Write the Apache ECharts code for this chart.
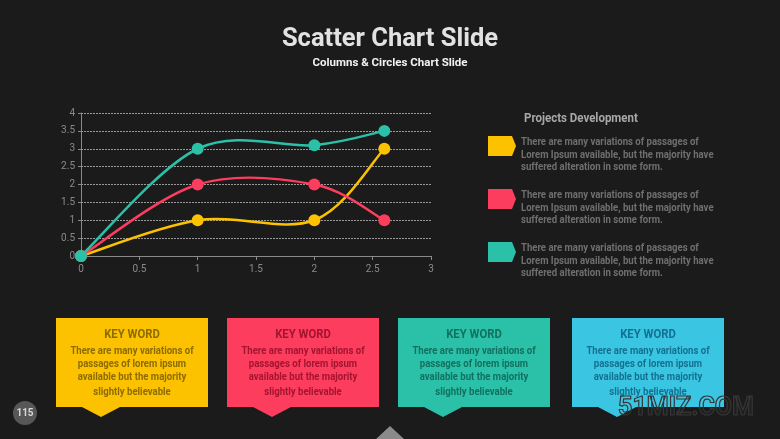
<!DOCTYPE html>
<html>
<head>
<meta charset="utf-8">
<script src="https://cdn.jsdelivr.net/npm/echarts@6/dist/echarts.min.js"></script>
<style>
  html, body { margin: 0; padding: 0; background: #1b1b1b; }
  #chart { width: 780px; height: 439px; }
</style>
</head>
<body>
<div id="chart"></div>
<script>
const xPoints = [0, 1, 2, 2.6];
const yellowValues = [0, 1, 1, 3];
const redValues = [0, 2, 2, 1];
const tealValues = [0, 3, 3.1, 3.5];

const seriesNames = ['Yellow', 'Red', 'Teal'];
const seriesColors = ['#fcc200', '#fc3d5e', '#2bc1a8'];
const boxColors = ['#fcc200', '#fc3d5e', '#2bc1a8', '#3ac6e3'];
const boxTextColors = ['#8c6b00', '#a3142f', '#11705f', '#13718f'];

const legendTitle = 'Projects Development';
const legendLines = [
  'There are many variations of passages of',
  'Lorem Ipsum available, but the majority have',
  'suffered alteration in some form.'
];
const boxKeyword = 'KEY WORD';
const boxLines = [
  'There are many variations of',
  'passages of lorem ipsum',
  'available but the majority',
  'slightly believable'
];

const font = 'Roboto, sans-serif';
const squeeze = 0.87;

function toPairs(values) {
  return xPoints.map((x, i) => [x, values[i]]);
}

// smooth curve (catmull-rom style, overshoots like the office charts do)
function curveItem(values, color) {
  return function (params, api) {
    const i = params.dataIndex;
    const n = values.length;
    if (i >= n - 1) return null;
    const pt = (k) => api.coord([xPoints[Math.max(0, Math.min(n - 1, k))], values[Math.max(0, Math.min(n - 1, k))]]);
    const p0 = pt(i - 1), p1 = pt(i), p2 = pt(i + 1), p3 = pt(i + 2);
    return {
      type: 'bezierCurve',
      shape: {
        x1: p1[0], y1: p1[1], x2: p2[0], y2: p2[1],
        cpx1: p1[0] + (p2[0] - p0[0]) / 6, cpy1: p1[1] + (p2[1] - p0[1]) / 6,
        cpx2: p2[0] - (p3[0] - p1[0]) / 6, cpy2: p2[1] - (p3[1] - p1[1]) / 6
      },
      style: { stroke: color, lineWidth: 2.5, fill: null }
    };
  };
}

const chart = echarts.init(document.getElementById('chart'));

const graphics = [];

// legend block on the right
graphics.push({
  type: 'text', x: 524, y: 112, scaleX: 0.92,
  style: { text: legendTitle, fill: '#a8a8a8', font: 'bold 12.5px ' + font }
});
seriesColors.forEach((color, i) => {
  const top = 136 + i * 53;
  graphics.push({
    type: 'polygon',
    shape: { points: [[488, top], [512, top], [516, top + 10], [512, top + 20], [488, top + 20]] },
    style: { fill: color }
  });
  graphics.push({
    type: 'text', x: 521, y: top, scaleX: squeeze,
    style: {
      text: legendLines.join('\n'), fill: '#6f6f6f', lineHeight: 12.6,
      font: 'bold 11px ' + font
    }
  });
});

// four keyword boxes
const boxLefts = [56, 227, 398, 572];
const boxWidth = 152;
boxColors.forEach((color, i) => {
  const l = boxLefts[i];
  const p = l + 26;
  const cx = l + boxWidth / 2;
  graphics.push({
    type: 'polygon',
    shape: {
      points: [[l, 318], [l + boxWidth, 318], [l + boxWidth, 407], [p + 38, 407],
        [p + 19, 417], [p, 407], [l, 407]]
    },
    style: { fill: color }
  });
  graphics.push({
    type: 'text', x: cx, y: 328.5, scaleX: squeeze,
    style: { text: boxKeyword, fill: boxTextColors[i], align: 'center', font: 'bold 13px ' + font }
  });
  graphics.push({
    type: 'text', x: cx, y: 345, scaleX: squeeze,
    style: {
      text: boxLines.slice(0, 3).join('\n'), fill: boxTextColors[i], align: 'center',
      lineHeight: 12.9, font: 'bold 11px ' + font
    }
  });
  graphics.push({
    type: 'text', x: cx, y: 386.5, scaleX: squeeze,
    style: { text: boxLines[3], fill: boxTextColors[i], align: 'center', font: 'bold 11px ' + font }
  });
});

// page number
graphics.push({
  type: 'circle', shape: { cx: 25, cy: 413, r: 12 }, style: { fill: '#575757' }
});
graphics.push({
  type: 'text', x: 25, y: 413,
  style: { text: '115', fill: '#d8d8d8', align: 'center', verticalAlign: 'middle', font: 'bold 10px ' + font }
});
// bottom marker
graphics.push({
  type: 'polygon', shape: { points: [[376, 439], [390, 426], [404, 439]] }, style: { fill: '#8a8a8a' }
});
// watermark
graphics.push({
  type: 'text', x: 686, y: 409,
  style: {
    text: '51MIZ.COM', align: 'center', verticalAlign: 'middle', fill: 'rgba(255,255,255,0.02)',
    stroke: '#343434', lineWidth: 1.2, font: 'bold 25px ' + font
  }
});

const valueSets = [yellowValues, redValues, tealValues];

const curveSeries = valueSets.map((values, i) => ({
  type: 'custom',
  name: seriesNames[i],
  data: toPairs(values),
  encode: { x: 0, y: 1 },
  renderItem: curveItem(values, seriesColors[i])
}));

const dotSeries = valueSets.map((values, i) => ({
  type: 'scatter',
  name: seriesNames[i],
  data: toPairs(values),
  symbol: 'circle',
  symbolSize: 12,
  itemStyle: { color: seriesColors[i], opacity: 1 }
}));

chart.setOption({
  backgroundColor: '#1b1b1b',
  animation: false,
  title: {
    text: 'Scatter Chart Slide',
    subtext: 'Columns & Circles Chart Slide',
    left: 'center',
    top: 22,
    itemGap: 4,
    textStyle: { color: '#e2e2e2', fontSize: 25.5, fontWeight: 'bold', fontFamily: font },
    subtextStyle: { color: '#f2f2f2', fontSize: 11.5, fontWeight: 'bold', fontFamily: font }
  },
  grid: { left: 81, right: 349, top: 113, bottom: 183 },
  xAxis: {
    type: 'value', min: 0, max: 3, interval: 0.5,
    axisLine: { show: true, lineStyle: { color: '#8a8a8a' } },
    axisTick: { show: true, length: 4, lineStyle: { color: '#8a8a8a' } },
    axisLabel: { color: '#8a8a8a', fontSize: 10, margin: 8, fontFamily: font },
    splitLine: { show: false }
  },
  yAxis: {
    type: 'value', min: 0, max: 4, interval: 0.5,
    axisLine: { show: true, lineStyle: { color: '#8a8a8a' } },
    axisTick: { show: true, length: 3, lineStyle: { color: '#8a8a8a' } },
    axisLabel: { color: '#8a8a8a', fontSize: 10, margin: 6, fontFamily: font },
    splitLine: { show: true, lineStyle: { color: '#9a9a9a', type: [2, 1], width: 1 } }
  },
  series: curveSeries.concat(dotSeries),
  graphic: graphics
});
</script>
</body>
</html>
